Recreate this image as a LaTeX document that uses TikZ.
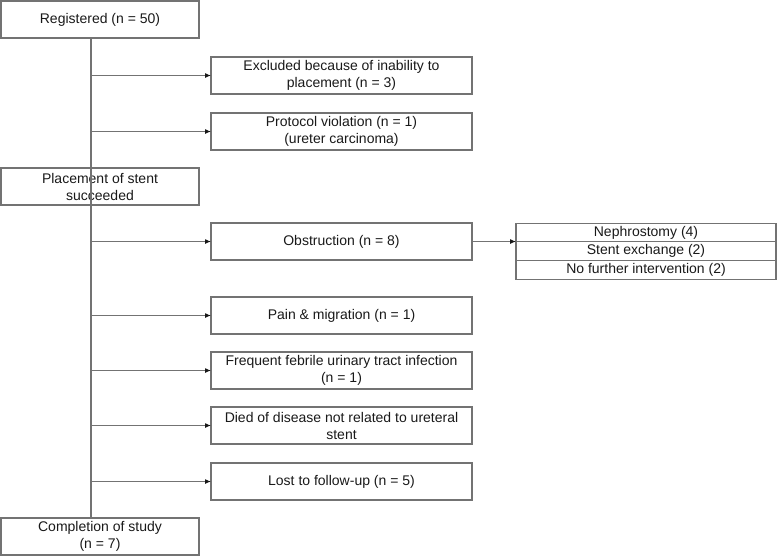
\documentclass[tikz,border=0pt]{standalone}
\usepackage{fontspec}
\setmainfont{Liberation Sans}
\usetikzlibrary{arrows.meta,positioning}
\tikzset{flowbox/.style={draw=black!55, line width=1.1pt, rectangle, inner sep=0pt, outer sep=0pt, align=center, text=black!90, font=\fontsize{14}{17}\selectfont}}
\tikzset{lbox/.style={flowbox, minimum width=198pt, minimum height=37pt}}
\tikzset{mbox/.style={flowbox, minimum width=261pt, minimum height=37pt}}
\tikzset{rbox/.style={flowbox, minimum width=260pt, minimum height=18.7pt}}
\tikzset{arr/.style={draw=black!55, line width=1.1pt, -{Latex[length=6pt,width=5pt,color=black!90]}}}

\begin{document}
\begin{tikzpicture}[x=1pt, y=-1pt]
        \useasboundingbox (0,0) rectangle (778,557);
        \coordinate (spine) at (91,0);

        \node[lbox] (reg) at (100,19.5){Registered (n = 50)};
        \node[mbox] (excl) at (341.5,75.5){Excluded because of inability to\\placement (n = 3)};
        \node[mbox] (prot) at (341.5,131.5){Protocol violation (n = 1)\\(ureter carcinoma)};
        \node[lbox] (place) at (100,186.5){Placement of stent\\succeeded};
        \node[mbox] (obst) at (341.5,241.5){Obstruction (n = 8)};
        \node[mbox] (pain) at (341.5,315.5){Pain \& migration (n = 1)};
        \node[mbox] (febr) at (341.5,370.5){Frequent febrile urinary tract infection\\(n = 1)};
        \node[mbox] (died) at (341.5,425.5){Died of disease not related to ureteral\\stent};
        \node[mbox] (lost) at (341.5,481.5){Lost to follow-up (n = 5)};
        \node[lbox] (done) at (100,536.5){Completion of study\\(n = 7)};

        % outcomes after obstruction
        \node[rbox] (neph) at (646,232.5){Nephrostomy (4)};
        \node[rbox, below=0pt of neph] (exch){Stent exchange (2)};
        \node[rbox, below=0pt of exch] (nofu){No further intervention (2)};

        \draw[arr, -] (reg.south -| spine) -- (done.north -| spine);
        \foreach \n in {excl, prot, obst, pain, febr, died, lost}
            \draw[arr] (spine |- \n.west) -- (\n.west);
        \draw[arr] (obst.east) -- (obst.east -| neph.west);
    \end{tikzpicture}
\end{document}
